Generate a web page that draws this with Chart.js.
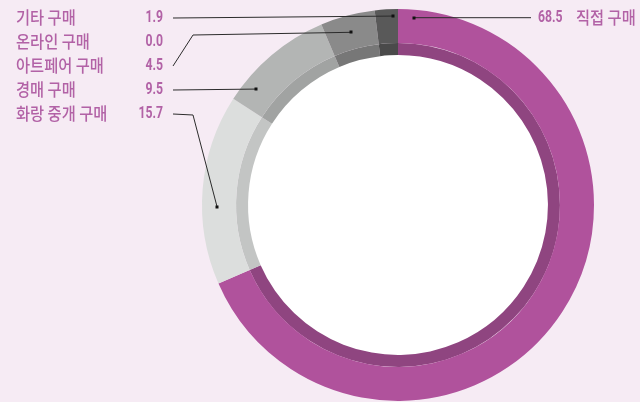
<!DOCTYPE html>
<html>
<head>
<meta charset="utf-8">
<script src="https://cdn.jsdelivr.net/npm/chart.js@4.4.0/dist/chart.umd.min.js"></script>
<style>
    html, body { margin: 0; padding: 0; background: #f6ebf4; }
    #wrap { width: 640px; height: 402px; position: relative; }
</style>
</head>
<body>
<div id="wrap"><canvas id="v" width="640" height="402"></canvas></div>
<script>
// purchase channel shares (%)
const categories = ['직접 구매', '화랑 중개 구매', '경매 구매', '아트페어 구매', '온라인 구매', '기타 구매'];
const shares = [68.5, 15.7, 9.5, 4.5, 0.0, 1.9];
const valueLabels = ['68.5', '15.7', '9.5', '4.5', '0.0', '1.9'];

const outerColors = ['#b0529c', '#dcdedd', '#b3b5b4', '#8a8a8a', '#777777', '#595959'];
const innerColors = ['#8f4580', '#c3c5c4', '#a1a3a2', '#777777', '#666666', '#4a4a4a'];

(function () {

    const ctx = document.getElementById('v').getContext('2d');

    // left-hand legend rows, top to bottom (index into categories)
    const leftRows = [5, 4, 3, 2, 1];

    // leader line: where the dot sits inside its arc (fraction of the arc, radius) and an optional elbow
    const leaders = {
        0: { f: 0.02, r: 188 },
        5: { f: 0.78, r: 189 },
        3: { f: 0.48, r: 179, elbow: [193, 35] },
        2: { f: 0.19, r: 183 },
        1: { f: 0.41, r: 181, elbow: [193, 115] }
    };

    // condensed text: draw with a horizontal squeeze
    const squeezed = function (c, text, x, y, font, sx, align) {
        c.save();
        c.font = font;
        let w = c.measureText(text).width * sx;
        let left = align === 'right' ? x - w : x;
        c.translate(left, y);
        c.scale(sx, 1);
        c.textAlign = 'left';
        c.fillText(text, 0, 0);
        c.restore();
    };

    const labelPlugin = {
        id: 'labels',
        afterDraw(chart) {
            const c = chart.ctx;
            const meta = chart.getDatasetMeta(0);
            const textColor = '#b262a6';
            const numFont = 'bold 17px Roboto, sans-serif';
            const korFont = '500 17px "Noto Sans CJK KR", sans-serif';

            const dotAt = function (i) {
                const arc = meta.data[i];
                const L = leaders[i];
                const a = arc.startAngle + L.f * (arc.endAngle - arc.startAngle);
                return [arc.x + Math.cos(a) * L.r, arc.y + Math.sin(a) * L.r];
            };

            const line = function (pts) {
                c.save();
                c.strokeStyle = '#2b2b2b';
                c.lineWidth = 1;
                c.beginPath();
                c.moveTo(pts[0][0], pts[0][1]);
                for (let k = 1; k < pts.length; k++) c.lineTo(pts[k][0], pts[k][1]);
                c.stroke();
                const d = pts[pts.length - 1];
                c.fillStyle = '#111';
                c.fillRect(Math.round(d[0]) - 1.5, Math.round(d[1]) - 1.5, 3, 3);
                c.restore();
            };

            c.save();
            c.textBaseline = 'middle';
            c.fillStyle = textColor;

            leftRows.forEach(function (i, row) {
                const y = 18 + row * 24;
                squeezed(c, categories[i], 16, y, korFont, 0.9, 'left');
                squeezed(c, valueLabels[i], 163, y, numFont, 0.72, 'right');
                if (leaders[i]) {
                    const d = dotAt(i);
                    const pts = [[173, y]];
                    if (leaders[i].elbow) pts.push(leaders[i].elbow);
                    pts.push(d);
                    line(pts);
                }
            });

            // right label
            const d0 = dotAt(0);
            line([[531, d0[1]], d0]);
            c.fillStyle = textColor;
            squeezed(c, valueLabels[0], 538, 18, numFont, 0.72, 'left');
            squeezed(c, categories[0], 576, 18, korFont, 0.9, 'left');
            c.restore();
        }
    };

    const config = {
        type: 'doughnut',
        data: {
            labels: categories,
            datasets: [{
                    data: shares,
                    backgroundColor: outerColors,
                    borderWidth: 0,
                    weight: 34
                }, {
                    data: shares,
                    backgroundColor: innerColors,
                    borderWidth: 0,
                    weight: 12
                }]
        },
        options: {
            animation: false,
            responsive: false,
            cutout: '76.5%',
            layout: {
                padding: { left: 202, right: 46, top: 9, bottom: 1 }
            },
            plugins: {
                legend: { display: false },
                tooltip: { enabled: false }
            }
        },
        plugins: [{
            id: 'hole',
            beforeDatasetsDraw(chart) {
                const arc = chart.getDatasetMeta(1).data[0];
                const c = chart.ctx;
                c.save();
                c.fillStyle = '#ffffff';
                c.beginPath();
                c.arc(arc.x, arc.y, arc.innerRadius + 1, 0, Math.PI * 2);
                c.fill();
                c.restore();
            }
        }, labelPlugin]
    };

    new Chart(ctx, config);

})();
</script>
</body>
</html>
